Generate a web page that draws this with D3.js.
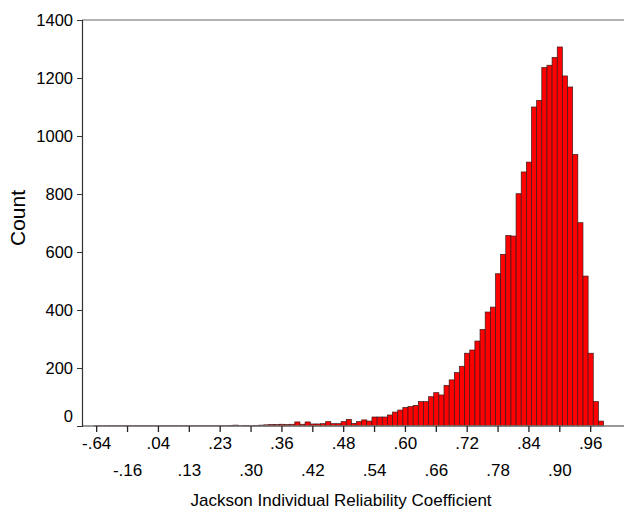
<!DOCTYPE html>
<html>
<head>
<meta charset="utf-8">
<script src="https://cdnjs.cloudflare.com/ajax/libs/d3/7.8.5/d3.min.js"></script>
<style>
  body { margin: 0; background: #fff; }
  svg { display: block; font-family: Arial, "Liberation Sans", sans-serif; }
</style>
</head>
<body>
<svg></svg>
<script>
let width = 624;
let height = 510;

// one count per category (bins are the observed coefficient values)
let counts = [
  1, 1, 1, 1, 1, 1, 1, 1, 1, 1, 1, 1, 1, 1, 1, 1, 1, 1, 1, 1, 1, 1, 1, 1, 1, 1,
  2, 3, 1, 2, 1, 2, 3, 4, 5, 5, 6, 5, 6, 14, 6, 14, 7, 7, 8, 15, 8, 8, 15, 23,
  9, 15, 21, 17, 31, 31, 31, 38, 48, 55, 64, 67, 71, 84, 84, 101, 115, 107, 140, 159,
  184, 206, 251, 262, 293, 333, 393, 410, 525, 592, 657, 655, 801, 876, 910, 1100, 1123, 1236, 1244, 1271,
  1307, 1207, 1169, 936, 701, 517, 251, 84, 17
];

// labels shown every 6th category
let tickLabels = ['-.64', '-.16', '.04', '.13', '.23', '.30', '.36', '.42', '.48',
  '.54', '.60', '.66', '.72', '.78', '.84', '.90', '.96'];
let tickStep = 6;

let yTicks = [0, 200, 400, 600, 800, 1000, 1200, 1400];

let plotLeft = 82;
let plotTop = 20;
let plotBottom = 426;

let svg = d3.select('svg')
  .attr('width', width)
  .attr('height', height);

let x = d3.scaleBand()
  .domain(d3.range(counts.length))
  .range([94.1, 94.1 + 5.146 * counts.length])
  .padding(0);

let y = d3.scaleLinear()
  .domain([0, 1400])
  .range([plotBottom, plotTop]);

// bars
svg.append('g')
  .selectAll('rect')
  .data(counts)
  .enter()
  .append('rect')
    .attr('x', (d, i) => x(i))
    .attr('width', x.bandwidth())
    .attr('y', d => y(d))
    .attr('height', d => plotBottom - y(d))
    .attr('fill', '#ff0000')
    .attr('stroke', '#3a1a1a')
    .attr('stroke-width', 0.7);

// frame lines
svg.append('line')
  .attr('x1', plotLeft).attr('x2', width)
  .attr('y1', plotTop).attr('y2', plotTop)
  .attr('stroke', '#9a9a9a')
  .attr('stroke-width', 1.5);

svg.append('line')
  .attr('x1', plotLeft).attr('x2', width)
  .attr('y1', plotBottom).attr('y2', plotBottom)
  .attr('stroke', '#777')
  .attr('stroke-width', 1.5);

// y axis
let yAxis = svg.append('g')
  .attr('transform', `translate(${plotLeft},0)`)
  .call(d3.axisLeft(y)
    .tickValues(yTicks)
    .tickFormat(d3.format('d'))
    .tickSize(5)
    .tickPadding(4));

yAxis.select('.domain')
  .attr('stroke', '#333')
  .attr('stroke-width', 1.2);

yAxis.selectAll('.tick line').attr('stroke', '#333');

yAxis.selectAll('.tick text')
  .attr('font-size', 16.5)
  .attr('font-family', 'Arial, "Liberation Sans", sans-serif')
  .attr('fill', '#000');

// the 0 label sits a bit above the baseline in the original
yAxis.selectAll('.tick')
  .filter(d => d === 0)
  .each(function() {
    d3.select(this).select('line').remove();
    d3.select(this).select('text').attr('dy', '-0.25em');
  });

// x axis ticks, labels alternate between two rows
let tickIdx = tickLabels.map((t, k) => k * tickStep);

let xAxis = svg.append('g')
  .attr('transform', `translate(0,${plotBottom})`)
  .call(d3.axisBottom(x)
    .tickValues(tickIdx)
    .tickSize(6)
    .tickFormat((d, k) => tickLabels[k]));

xAxis.select('.domain').remove();
xAxis.selectAll('.tick line').attr('stroke', '#222').attr('stroke-width', 1.3);

xAxis.selectAll('.tick text')
  .attr('font-size', 17)
  .attr('font-family', 'Arial, "Liberation Sans", sans-serif')
  .attr('fill', '#000')
  .attr('y', (d, k) => k % 2 === 0 ? 11 : 38)
  .attr('dy', '0.71em');

// axis titles
svg.append('text')
  .attr('x', 341)
  .attr('y', 506)
  .attr('text-anchor', 'middle')
  .attr('font-size', 17)
  .text('Jackson Individual Reliability Coefficient');

svg.append('text')
  .attr('transform', 'translate(25,218) rotate(-90)')
  .attr('text-anchor', 'middle')
  .attr('font-size', 21)
  .text('Count');
</script>
</body>
</html>
